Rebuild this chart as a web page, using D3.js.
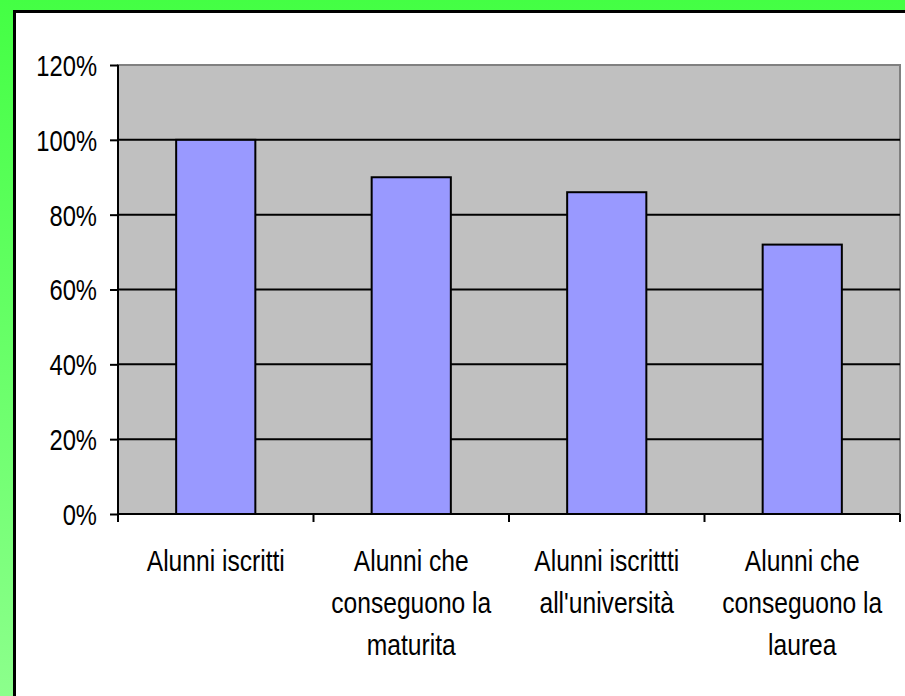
<!DOCTYPE html>
<html>
<head>
<meta charset="utf-8">
<script src="https://cdn.jsdelivr.net/npm/d3@7"></script>
<style>
html,body{margin:0;padding:0;overflow:hidden;background:#fff;}
svg{display:block;}
</style>
</head>
<body>
<svg id="chart" width="905" height="696"></svg>
<script>
const categories = [
  ["Alunni iscritti"],
  ["Alunni che", "conseguono la", "maturita"],
  ["Alunni iscrittti", "all'università"],
  ["Alunni che", "conseguono la", "laurea"]
];
const values = [1.00, 0.90, 0.86, 0.72];
const yTicks = [0, 0.2, 0.4, 0.6, 0.8, 1.0, 1.2];

(function(){
const svg = d3.select("#chart");
const W = 905, H = 696;
const FONT = "'Liberation Sans', Arial, sans-serif";
const SX = 0.82; // condensed look (Arial Narrow)

const defs = svg.append("defs");
const grad = defs.append("linearGradient").attr("id","bg").attr("x1",0).attr("y1",0).attr("x2",0).attr("y2",1);
grad.append("stop").attr("offset","0%").attr("stop-color","#44ff44");
grad.append("stop").attr("offset","100%").attr("stop-color","#8cff8c");

svg.append("rect").attr("width",W).attr("height",H).attr("fill","url(#bg)");
// frame
svg.append("rect").attr("x",16.5).attr("y",13.5).attr("width",W).attr("height",H).attr("fill","none").attr("stroke","#666").attr("stroke-width",1);
svg.append("rect").attr("x",14.5).attr("y",11.5).attr("width",W).attr("height",H).attr("fill","#fff").attr("stroke","#000").attr("stroke-width",3);

const pL = 118, pR = 900, pT = 65, pB = 514;
const x = d3.scaleBand().domain(d3.range(categories.length)).range([pL,pR]).paddingInner(0.595).paddingOuter(0.2975);
const xSlot = d3.scaleBand().domain(d3.range(categories.length)).range([pL,pR]).padding(0);
const y = d3.scaleLinear().domain([0,1.2]).range([pB,pT]);

// plot area
svg.append("rect").attr("x",pL).attr("y",pT).attr("width",pR-pL).attr("height",pB-pT)
  .attr("fill","#c0c0c0").attr("stroke","#808080").attr("stroke-width",2);

// gridlines
svg.append("g").selectAll("line").data(yTicks.filter(t=>t>0 && t<1.2)).join("line")
  .attr("x1",pL).attr("x2",pR).attr("y1",d=>y(d)).attr("y2",d=>y(d))
  .attr("stroke","#000").attr("stroke-width",2);

// bars
svg.append("g").selectAll("rect").data(values).join("rect")
  .attr("x",(d,i)=>x(i)).attr("width",x.bandwidth())
  .attr("y",d=>y(d)).attr("height",d=>y(0)-y(d))
  .attr("fill","#9999ff").attr("stroke","#000").attr("stroke-width",2);

// y axis
const yAxis = d3.axisLeft(y).tickValues(yTicks).tickFormat(d3.format(".0%")).tickSize(8).tickPadding(12);
const gy = svg.append("g").attr("transform",`translate(${pL},0)`).call(yAxis);
gy.select(".domain").attr("stroke","#000").attr("stroke-width",2).attr("d",`M0,${pT}V${pB}`);
gy.selectAll(".tick line").attr("stroke","#000").attr("stroke-width",2);
gy.selectAll(".tick text").attr("font-family",FONT).attr("font-size",29).attr("fill","#000")
  .attr("x",-21/SX).attr("dy","0.36em").attr("transform",`scale(${SX},1)`);

// x axis
svg.append("line").attr("x1",pL).attr("x2",pR).attr("y1",pB).attr("y2",pB).attr("stroke","#000").attr("stroke-width",2);
const xTickPos = d3.range(categories.length+1).map(i => i<categories.length ? xSlot(i) : pR);
svg.append("g").selectAll("line").data(xTickPos).join("line")
  .attr("x1",d=>d).attr("x2",d=>d).attr("y1",pB).attr("y2",pB+8)
  .attr("stroke","#000").attr("stroke-width",2);

const lab = svg.append("g").attr("font-family",FONT).attr("font-size",30).attr("fill","#000").attr("text-anchor","middle");
categories.forEach((lines,i)=>{
  const cx = xSlot(i) + xSlot.bandwidth()/2;
  const t = lab.append("text").attr("transform",`translate(${cx},0) scale(${SX},1)`);
  lines.forEach((ln,j)=>{
    t.append("tspan").attr("x",0).attr("y",571 + j*42).text(ln);
  });
});
})();
</script>
</body>
</html>
